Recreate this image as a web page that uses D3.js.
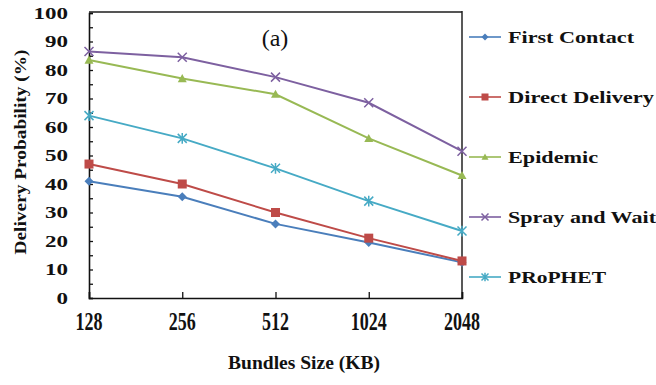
<!DOCTYPE html>
<html>
<head>
<meta charset="utf-8">
<script src="https://cdn.jsdelivr.net/npm/d3@7/dist/d3.min.js"></script>
<style>
  html, body { margin: 0; padding: 0; background: #fff; }
  svg { display: block; }
  text { font-family: "Liberation Serif", "Times New Roman", serif; fill: #111; }
</style>
</head>
<body>
<svg id="chart" width="656" height="385"></svg>
<script>
// Bundle sizes (KB) along the x axis
const bundleSizes = ["128", "256", "512", "1024", "2048"];

// Delivery probability (%) for each routing protocol
const firstContact   = [41, 35.5, 26, 19.5, 12.5];
const directDelivery = [47, 40, 30, 21, 13];
const epidemic       = [83.5, 77, 71.5, 56, 43];
const sprayAndWait   = [86.5, 84.5, 77.5, 68.5, 51.5];
const prophet        = [64, 56, 45.5, 34, 23.5];

const seriesNames  = ["First Contact", "Direct Delivery", "Epidemic", "Spray and Wait", "PRoPHET"];
const seriesColors = ["#4a7ebb", "#be4b48", "#98b954", "#7d60a0", "#46aac5"];
const seriesMarks  = ["diamond", "square", "triangle", "cross", "star"];
const seriesValues = [firstContact, directDelivery, epidemic, sprayAndWait, prophet];

const yTicks = [0, 10, 20, 30, 40, 50, 60, 70, 80, 90, 100];

const series = seriesNames.map((name, i) => ({
  name, color: seriesColors[i], mark: seriesMarks[i],
  values: seriesValues[i].map((v, j) => ({ size: bundleSizes[j], v }))
}));

const svg = d3.select("#chart");
const plot = { left: 89, right: 462, top: 13, bottom: 298 };

const x = d3.scalePoint().domain(bundleSizes).range([plot.left, plot.right]);
const y = d3.scaleLinear().domain([0, 100]).range([plot.bottom, plot.top]);

// Frame: top and right edges of the plot box
svg.append("line").attr("x1", plot.left).attr("x2", plot.right)
  .attr("y1", plot.top - 1).attr("y2", plot.top - 1)
  .attr("stroke", "#555").attr("stroke-width", 2);
svg.append("line").attr("x1", plot.right).attr("x2", plot.right)
  .attr("y1", plot.top - 2).attr("y2", plot.bottom)
  .attr("stroke", "#222").attr("stroke-width", 1.5);

// Y axis with inward ticks (major every 10, minor every 5)
const yAxis = svg.append("g").attr("transform", `translate(${plot.left},0)`)
  .call(d3.axisRight(y).tickValues(d3.range(0, 101, 5)).tickSize(4).tickFormat(""));
yAxis.select(".domain").attr("stroke", "#111").attr("stroke-width", 1.6);
yAxis.selectAll(".tick line").attr("stroke", "#111").attr("stroke-width", 1.3);

svg.append("g").selectAll("text").data(yTicks).join("text")
  .attr("x", 68).attr("y", d => y(d) + 5.5)
  .attr("text-anchor", "end")
  .attr("font-size", 16).attr("font-weight", "bold")
  .attr("textLength", d => String(d).length * 11.5)
  .attr("lengthAdjust", "spacingAndGlyphs")
  .text(d => d);

// X axis with inward ticks
const xAxis = svg.append("g").attr("transform", `translate(0,${plot.bottom})`)
  .call(d3.axisTop(x).tickSize(6).tickFormat(""));
xAxis.select(".domain").attr("stroke", "#111").attr("stroke-width", 1.6);
xAxis.selectAll(".tick line").attr("stroke", "#111").attr("stroke-width", 1.3);

svg.append("g").selectAll("text").data(bundleSizes).join("text")
  .attr("transform", d => `translate(${x(d)},${plot.bottom + 32}) scale(0.72,1)`)
  .attr("text-anchor", "middle")
  .attr("font-size", 25).attr("font-weight", "bold")
  .text(d => d);

// Axis titles
svg.append("text")
  .attr("transform", "translate(304,369)")
  .attr("text-anchor", "middle")
  .attr("font-size", 18).attr("font-weight", "bold")
  .attr("textLength", 152).attr("lengthAdjust", "spacingAndGlyphs")
  .text("Bundles Size (KB)");

svg.append("text")
  .attr("transform", "translate(26,152) rotate(-90)")
  .attr("text-anchor", "middle")
  .attr("font-size", 17).attr("font-weight", "bold")
  .attr("textLength", 205).attr("lengthAdjust", "spacingAndGlyphs")
  .text("Delivery Probability (%)");

// Panel label
svg.append("text")
  .attr("x", 275).attr("y", 46)
  .attr("text-anchor", "middle")
  .attr("font-size", 24)
  .text("(a)");

// Marker shapes
function drawMark(g, mark, color, s) {
  if (mark === "diamond") {
    g.append("path").attr("d", `M0,${-s}L${s},0L0,${s}L${-s},0Z`).attr("fill", color);
  } else if (mark === "square") {
    g.append("rect").attr("x", -s).attr("y", -s).attr("width", 2 * s).attr("height", 2 * s).attr("fill", color);
  } else if (mark === "triangle") {
    g.append("path").attr("d", `M0,${-s}L${s},${s * 0.8}L${-s},${s * 0.8}Z`).attr("fill", color);
  } else if (mark === "cross") {
    g.append("path").attr("d", `M${-s},${-s}L${s},${s}M${-s},${s}L${s},${-s}`)
      .attr("stroke", color).attr("stroke-width", 1.5).attr("fill", "none");
  } else {
    g.append("path").attr("d", `M${-s},${-s}L${s},${s}M${-s},${s}L${s},${-s}M0,${-s * 1.2}L0,${s * 1.2}`)
      .attr("stroke", color).attr("stroke-width", 1.5).attr("fill", "none");
  }
}

// Series lines and markers
const line = d3.line().x(d => x(d.size)).y(d => y(d.v));
series.forEach(s => {
  svg.append("path").datum(s.values)
    .attr("d", line).attr("fill", "none")
    .attr("stroke", s.color).attr("stroke-width", 2);
  s.values.forEach(p => {
    const g = svg.append("g").attr("transform", `translate(${x(p.size)},${y(p.v)})`);
    drawMark(g, s.mark, s.color, 4.5);
  });
});

// Legend
const legendWidths = [126, 146, 90, 148, 98];
const legend = svg.append("g");
series.forEach((s, i) => {
  const ly = 37 + i * 60;
  const g = legend.append("g").attr("transform", `translate(0,${ly})`);
  g.append("line").attr("x1", 469).attr("x2", 501).attr("y1", 0).attr("y2", 0)
    .attr("stroke", s.color).attr("stroke-width", 1.6);
  const m = g.append("g").attr("transform", "translate(485,0)");
  drawMark(m, s.mark, s.color, 3.5);
  g.append("text").attr("x", 508).attr("y", 6)
    .attr("font-size", 17).attr("font-weight", "bold")
    .attr("textLength", legendWidths[i]).attr("lengthAdjust", "spacingAndGlyphs")
    .text(s.name);
});
</script>
</body>
</html>
